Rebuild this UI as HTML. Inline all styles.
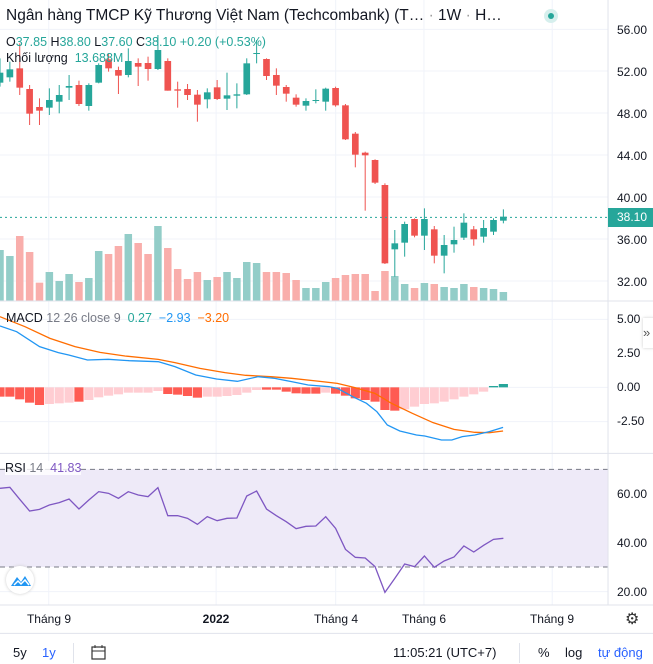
<!DOCTYPE html>
<html><head><meta charset="utf-8"><style>
body{margin:0;width:653px;height:664px;overflow:hidden;background:#fff;font-family:"Liberation Sans","Noto Sans CJK SC",sans-serif;color:#131722;position:relative}
.t{position:absolute;white-space:nowrap}
.yl{position:absolute;left:617px;font-size:12px;color:#131722}
.xl{position:absolute;top:612px;font-size:12px;color:#131722;transform:translateX(-50%)}
</style></head><body>
<svg id="s" width="653" height="664" viewBox="0 0 1568 1992" preserveAspectRatio="none" style="position:absolute;left:0;top:0"></svg>
<div class="t" style="left:6px;top:7px;font-size:15.5px">Ngân hàng TMCP Kỹ Thương Việt Nam (Techcombank) (T… <span style="color:#999">·</span> 1W <span style="color:#999">·</span> H…</div>
<div style="position:absolute;left:544px;top:9px;width:14px;height:14px;border-radius:50%;background:#d6efed"></div>
<div style="position:absolute;left:548px;top:13px;width:6px;height:6px;border-radius:50%;background:#26a69a"></div>
<div class="t" style="left:6px;top:35px;font-size:12.5px;color:#26a69a"><span style="color:#131722">O</span>37.85 <span style="color:#131722">H</span>38.80 <span style="color:#131722">L</span>37.60 <span style="color:#131722">C</span>38.10 +0.20 (+0.53%)</div>
<div class="t" style="left:6px;top:51px;font-size:12.5px">Khối lượng <span style="color:#26a69a">&nbsp;13.688M</span></div>
<div class="yl" style="top:23px">56.00</div><div class="yl" style="top:65px">52.00</div><div class="yl" style="top:107px">48.00</div><div class="yl" style="top:149px">44.00</div><div class="yl" style="top:191px">40.00</div><div class="yl" style="top:233px">36.00</div><div class="yl" style="top:275px">32.00</div>
<div style="position:absolute;left:608px;top:208px;width:45px;height:19px;background:#26a69a;color:#fff;font-size:12px;line-height:19px;padding-left:9px;box-sizing:border-box">38.10</div>
<div class="t" style="left:6px;top:311px;font-size:12.5px">MACD <span style="color:#787b86">12 26 close 9</span> <span style="color:#26a69a">&nbsp;0.27</span> <span style="color:#2196f3">&nbsp;−2.93</span> <span style="color:#ff6d00">&nbsp;−3.20</span></div>
<div class="yl" style="top:312px">5.00</div><div class="yl" style="top:346px">2.50</div><div class="yl" style="top:380px">0.00</div><div class="yl" style="top:414px">-2.50</div>
<div style="position:absolute;left:643px;top:318px;width:12px;height:30px;background:#fff;box-shadow:0 0 3px #ccc;font-size:13px;line-height:30px;color:#555">»</div>
<div class="t" style="left:5px;top:461px;font-size:12.5px;background:rgba(255,255,255,.8)">RSI <span style="color:#787b86">14</span> <span style="color:#7e57c2">&nbsp;41.83</span></div>
<div class="yl" style="top:487px">60.00</div><div class="yl" style="top:536px">40.00</div><div class="yl" style="top:585px">20.00</div>
<div style="position:absolute;left:6px;top:566px;width:28px;height:28px;border-radius:50%;background:#fff;box-shadow:0 0 3px #ccc"></div>
<svg style="position:absolute;left:10px;top:573px" width="22" height="14" viewBox="0 0 22 14"><path d="M1 13 L7 4 L11 9 L15 3 L21 13 Z" fill="#2196f3"/><path d="M4 12 L8 8 L11 11 L15 7 L19 12" stroke="#fff" stroke-width="1.5" fill="none"/></svg>
<div class="xl" style="left:49px">Tháng 9</div><div class="xl" style="left:216px;font-weight:bold">2022</div><div class="xl" style="left:336px">Tháng 4</div><div class="xl" style="left:424px">Tháng 6</div><div class="xl" style="left:552px">Tháng 9</div>
<div class="t" style="left:625px;top:609px;font-size:16px;color:#333">⚙</div>
<div class="t" style="left:13px;top:645px;font-size:13px">5y</div>
<div class="t" style="left:42px;top:645px;font-size:13px;color:#2962ff">1y</div>
<div style="position:absolute;left:73px;top:643px;width:1px;height:20px;background:#e0e3eb"></div>
<svg style="position:absolute;left:90px;top:644px" width="17" height="17" viewBox="0 0 17 17"><rect x="2" y="3" width="13" height="12" fill="none" stroke="#333" stroke-width="1.2"/><line x1="2" y1="7" x2="15" y2="7" stroke="#333"/><line x1="5" y1="1" x2="5" y2="4" stroke="#333"/><line x1="12" y1="1" x2="12" y2="4" stroke="#333"/></svg>
<div class="t" style="left:393px;top:645px;font-size:13px">11:05:21 (UTC+7)</div>
<div style="position:absolute;left:519px;top:643px;width:1px;height:20px;background:#e0e3eb"></div>
<div class="t" style="left:538px;top:645px;font-size:13px">%</div>
<div class="t" style="left:565px;top:645px;font-size:13px">log</div>
<div class="t" style="left:598px;top:645px;font-size:13px;color:#2962ff">tự động</div>
<script>
const S=document.getElementById('s');let h='';
const G='#26a69a',R='#ef5350';
function ln(x1,y1,x2,y2,c,w,d){h+=`<line x1="${x1}" y1="${y1}" x2="${x2}" y2="${y2}" stroke="${c}" stroke-width="${w||1}" vector-effect="non-scaling-stroke" ${d?'stroke-dasharray="'+d+'"':''}/>`}
function rc(x,y,w,hh,c){h+=`<rect x="${x}" y="${y}" width="${w}" height="${Math.max(hh,3)}" fill="${c}"/>`}
// grid
[88,213,339,465,591,717,843].forEach(y=>ln(0,y,1460,y,'#f0f3fa'));
[958,1162,1265].forEach(y=>ln(0,y,1460,y,'#f0f3fa'));
[1481,1627,1775].forEach(y=>ln(0,y,1460,y,'#f0f3fa'));
[117,519,806,1018,1326].forEach(x=>ln(x,0,x,1815,'#f0f3fa'));
// RSI bg
h+=`<rect x="0" y="1408" width="1460" height="293" fill="#eeeaf8"/>`;
ln(0,1408,1460,1408,'#787b86',1,'5 4');ln(0,1701,1460,1701,'#787b86',1,'5 4');
const xs=i=>i*23.7;
const C=[['g',218,248,175,260],['g',208,232,185,245],['r',205,263,130,285],['r',267,341,255,375],['r',321,332,295,375],['g',300,323,265,345],['g',285,305,255,340],['g',258,263,225,300],['r',255,312,242,318],['g',255,318,250,332],['g',195,248,190,250],['r',178,205,160,215],['r',210,227,200,282],['g',183,225,145,232],['r',189,200,175,258],['r',189,207,170,242],['g',150,207,105,210],['r',183,272,175,272],['r',268,272,245,323],['r',267,285,252,300],['r',284,314,270,365],['g',277,298,265,325],['r',262,297,240,300],['g',286,296,218,330],['g',283,287,250,325],['g',190,283,175,285],['g',159,161,120,190],['r',177,228,175,240],['r',225,257,205,285],['r',261,281,255,305],['r',293,314,283,320],['g',303,317,295,332],['g',300,302,268,310],['g',266,305,263,332],['r',264,316,260,320],['r',316,418,312,420],['r',401,464,396,502],['r',458,466,455,632],['r',480,548,478,552],['r',555,790,550,792],['g',730,748,690,830],['g',672,728,665,770],['r',657,707,655,712],['g',657,707,625,750],['r',688,767,678,790],['g',735,767,705,820],['g',720,733,680,758],['g',668,713,640,720],['r',688,718,678,737],['g',684,710,660,728],['g',660,695,655,705],['g',650,662,628,670]];
const V=[750,768,708,756,848,816,843,822,846,834,753,762,738,702,729,762,678,744,807,837,816,840,831,816,834,786,789,816,816,819,840,864,864,846,834,825,822,822,873,813,828,852,864,849,852,861,864,852,861,864,867,876];
V.forEach((t,i)=>{rc(xs(i)-9,t,18,903-t,C[i][0]=='g'?'#93cdc8':'#f9aeab')});
C.forEach((c,i)=>{const x=xs(i),col=c[0]=='g'?G:R;ln(x,c[3],x,c[4],col,1);rc(x-8,c[1],16,c[2]-c[1],col)});
ln(0,652,1460,652,'#26a69a',1,'2 3');
// MACD hist
const O=900;
const HB=[[290,1],[290,1],[298,1],[308,1],[315,1],[312,0],[310,0],[308,0],[305,1],[300,0],[292,0],[287,0],[283,0],[278,0],[278,0],[278,0],[273,0],[282,1],[284,1],[288,1],[293,1],[290,0],[290,0],[288,0],[285,0],[278,0],[270,0],[269,1],[269,1],[275,1],[280,1],[281,1],[281,1],[278,0],[281,1],[287,1],[295,1],[300,1],[305,1],[330,1],[332,1],[328,0],[320,0],[312,0],[310,0],[305,0],[298,0],[290,0],[283,0],[275,0]];
HB.forEach((b,i)=>rc(xs(i)-11,O+262,22,b[0]-262,b[1]?'#ff5b52':'#ffcdd2'));
rc(xs(50)-11,O+258,22,4,'#26a69a');rc(xs(51)-11,O+252,22,10,'#26a69a');
function pl(p,c,off){h+=`<polyline points="${p.map(q=>q[0]+','+(q[1]+off)).join(' ')}" fill="none" stroke="${c}" stroke-width="1.3" vector-effect="non-scaling-stroke"/>`}
pl([[0,50],[60,80],[120,115],[180,140],[240,157],[300,168],[380,178],[420,188],[480,205],[540,218],[590,226],[650,230],[700,235],[760,243],[810,250],[850,262],[900,280],[940,310],[990,340],[1040,368],[1090,388],[1140,397],[1175,398],[1208,393]],'#ff6d00',O);
pl([[0,78],[40,95],[95,140],[140,158],[165,165],[210,180],[260,178],[310,182],[380,185],[420,200],[470,225],[520,237],[570,244],[620,230],[660,235],[700,245],[740,255],[790,260],[810,265],[850,292],[880,310],[905,335],[930,375],[960,393],[1000,405],[1020,408],[1060,420],[1085,420],[1110,410],[1140,405],[1175,395],[1208,382]],'#2196f3',O);
const RS=[565,562,598,633,628,615,608,597,627,600,575,580,595,575,585,590,563,647,647,655,673,650,662,655,654,588,573,627,647,665,686,679,678,650,685,748,772,774,800,877,835,792,800,768,802,783,771,738,756,736,718,715];
pl(RS.map((y,i)=>[xs(i),y]),'#7e57c2',O);
// separators
ln(1460,0,1460,1815,'#e0e3eb');ln(0,903,1568,903,'#e0e3eb');ln(0,1360,1568,1360,'#e0e3eb');ln(0,1815,1568,1815,'#e0e3eb');ln(0,1900,1568,1900,'#e0e3eb');
S.innerHTML=h;
</script>
</body></html>
